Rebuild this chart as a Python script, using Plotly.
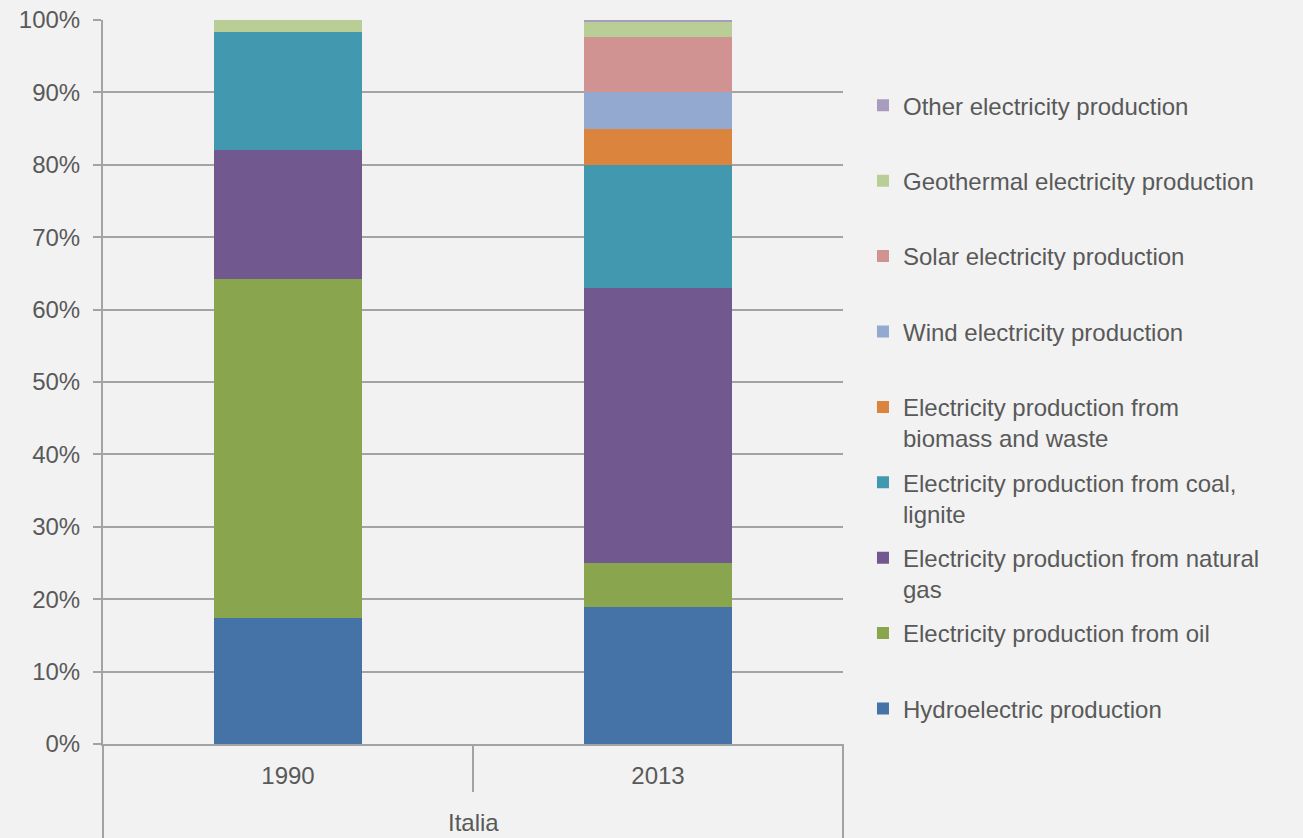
import plotly.graph_objects as go

years = ["1990", "2013"]
series_names = [
    "Hydroelectric production",
    "Electricity production from oil",
    "Electricity production from natural<br>gas",
    "Electricity production from coal,<br>lignite",
    "Electricity production from<br>biomass and waste",
    "Wind electricity production",
    "Solar electricity production",
    "Geothermal electricity production",
    "Other electricity production",
]
hydro = [17.4, 18.9]
oil = [46.8, 6.1]
gas = [17.8, 38.0]
coal = [16.3, 17.0]
biomass = [0.0, 4.9]
wind = [0.0, 5.1]
solar = [0.0, 7.7]
geothermal = [1.7, 2.0]
other = [0.0, 0.3]
colors = ["#4572a7", "#89a54e", "#71588f", "#4198af", "#db843d",
          "#93a9cf", "#d19392", "#b9cd96", "#a99bbd"]

values = [hydro, oil, gas, coal, biomass, wind, solar, geothermal, other]

FONT = "Liberation Sans, Arial, sans-serif"
TXT = "#595959"
LINE = "#a3a3a3"

fig = go.Figure()
n = len(series_names)
for i, (name, vals, col) in enumerate(zip(series_names, values, colors)):
    label = name if "<br>" in name else name + "<br>\u00a0"
    fig.add_trace(go.Bar(
        x=years, y=vals, name=label, legendgroup=name,
        legendrank=n - i,
        marker=dict(color=col, line=dict(width=0)),
        hoverinfo="x+y+name",
    ))

shapes = []
for xp in (0, 1):
    shapes.append(dict(type="line", xref="paper", yref="paper",
                       x0=xp, x1=xp, y0=0, y1=-94 / 724,
                       line=dict(color=LINE, width=2)))
for i in range(len(years) - 1):
    shapes.append(dict(type="line", xref="x", yref="paper",
                       x0=i + 0.5, x1=i + 0.5, y0=0, y1=-48 / 724,
                       line=dict(color=LINE, width=2)))

fig.update_layout(
    barmode="stack",
    bargap=0.6,
    width=1303, height=838,
    margin=dict(l=103, r=460, t=20, b=94, autoexpand=False),
    paper_bgcolor="#f2f2f2",
    plot_bgcolor="#f2f2f2",
    font=dict(family=FONT, size=24, color=TXT),
    showlegend=True,
    legend=dict(
        traceorder="grouped",
        tracegroupgap=10,
        valign="top",
        x=1.027, xanchor="left",
        y=0.9127, yanchor="top",
        font=dict(family=FONT, size=24, color=TXT),
        bgcolor="rgba(0,0,0,0)",
    ),
    xaxis=dict(
        type="category",
        automargin=False,
        showgrid=False,
        showline=True, linecolor=LINE, linewidth=2,
        ticks="",
        ticklabelstandoff=9,
        tickfont=dict(family=FONT, size=24, color=TXT),
    ),
    yaxis=dict(
        range=[0, 100],
        automargin=False,
        dtick=10,
        ticksuffix="%",
        showgrid=True, gridcolor=LINE, gridwidth=2,
        zeroline=False,
        showline=True, linecolor=LINE, linewidth=2,
        ticks="outside", ticklen=8, tickcolor=LINE, tickwidth=2,
        ticklabelstandoff=8,
        tickfont=dict(family=FONT, size=24, color=TXT),
    ),
    shapes=shapes,
    annotations=[dict(
        text="Italia", xref="paper", yref="paper",
        x=0.5, y=-78 / 724, xanchor="center", yanchor="middle",
        showarrow=False, font=dict(family=FONT, size=24, color=TXT),
    )],
)

fig.write_html("out.html")
